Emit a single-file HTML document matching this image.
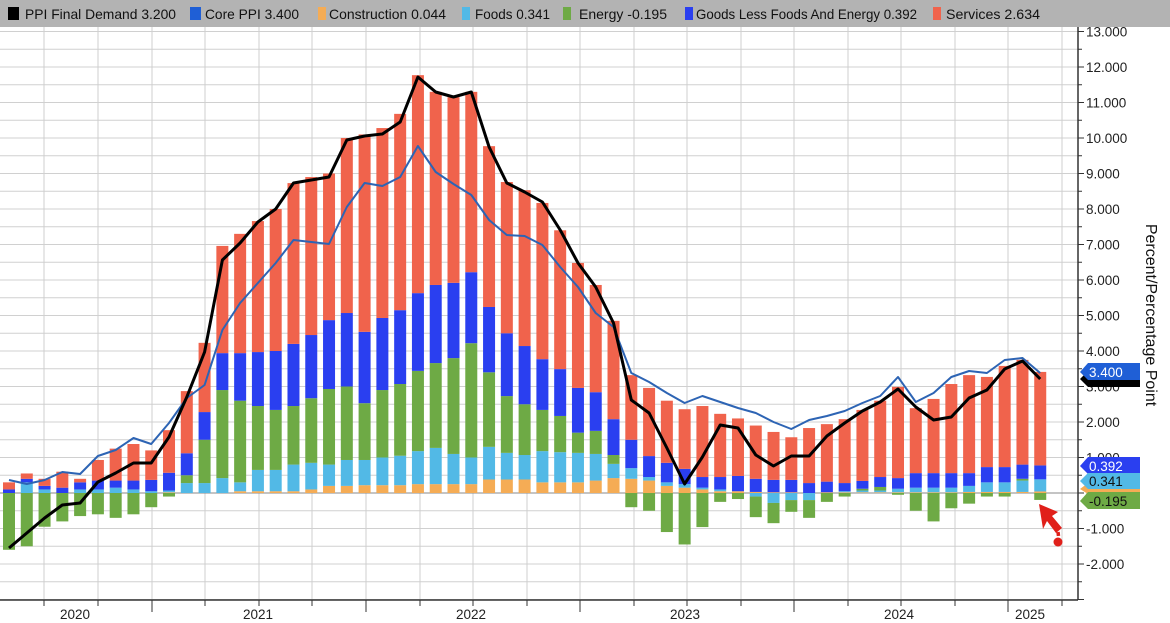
<!DOCTYPE html>
<html><head><meta charset="utf-8"><style>
html,body{margin:0;padding:0;background:#fff;width:1170px;height:623px;overflow:hidden}
svg{display:block;font-family:"Liberation Sans","DejaVu Sans",sans-serif}
</style></head><body>
<svg id="c" width="1170" height="623" viewBox="0 0 1170 623" xmlns="http://www.w3.org/2000/svg">
<rect x="0" y="0" width="1170" height="623" fill="#fff"/>
<g id="grid"></g>
<g id="bars"></g>
<g id="lines"></g>
<rect x="0" y="0" width="1170" height="27" fill="#b3b3b3"/>
<g font-size="14" fill="#111">
<rect x="8" y="7" width="11" height="13" fill="#000"/><text x="25" y="19" textLength="151" lengthAdjust="spacingAndGlyphs">PPI Final Demand 3.200</text>
<rect x="190" y="7" width="11" height="13" fill="#1f5fd6"/><text x="205" y="19" textLength="94" lengthAdjust="spacingAndGlyphs">Core PPI 3.400</text>
<rect x="318" y="7" width="8" height="13" fill="#f5ac55"/><text x="329" y="19" textLength="117" lengthAdjust="spacingAndGlyphs">Construction 0.044</text>
<rect x="462" y="7" width="8" height="13" fill="#52b9e6"/><text x="475" y="19" textLength="75" lengthAdjust="spacingAndGlyphs">Foods 0.341</text>
<rect x="563" y="7" width="8" height="13" fill="#6eaa45"/><text x="579" y="19" textLength="88" lengthAdjust="spacingAndGlyphs">Energy -0.195</text>
<rect x="685" y="7" width="8" height="13" fill="#2a3ff0"/><text x="696" y="19" textLength="221" lengthAdjust="spacingAndGlyphs">Goods Less Foods And Energy 0.392</text>
<rect x="933" y="7" width="8" height="13" fill="#f0634c"/><text x="946" y="19" textLength="94" lengthAdjust="spacingAndGlyphs">Services 2.634</text>
</g>
<g id="axis"></g>
<text transform="translate(1146,315) rotate(90)" text-anchor="middle" font-size="16" fill="#111">Percent/Percentage Point</text>
<g font-size="13.5">
<polygon points="1080,379 1088,371 1140,371 1140,387 1088,387" fill="#000"/>
<polygon points="1080,372 1088,363 1140,363 1140,380 1088,380" fill="#1f5fd6"/>
<text x="1089" y="377" fill="#fff">3.400</text>
<polygon points="1080,489 1088,483 1140,483 1140,494 1088,494" fill="#f5ac55"/>
<polygon points="1080,466 1088,457 1140,457 1140,474 1088,474" fill="#2a3ff0"/>
<text x="1089" y="471" fill="#fff">0.392</text>
<polygon points="1080,481 1088,473 1140,473 1140,489 1088,489" fill="#52b9e6"/>
<text x="1089" y="486" fill="#111">0.341</text>
<polygon points="1080,501 1088,492 1140,492 1140,509 1088,509" fill="#6eaa45"/>
<text x="1089" y="506" fill="#111">-0.195</text>
</g>
<polygon points="1039,504 1058,512 1052,516 1062,528 1056,533 1047,521 1043,529" fill="#e0201a"/>
<line x1="1058" y1="532" x2="1059" y2="540" stroke="#e0201a" stroke-width="3.5" stroke-dasharray="4,3"/>
<circle cx="1058" cy="542" r="4.5" fill="#e0201a"/>
</svg>
<script>
var NS="http://www.w3.org/2000/svg";
function el(p,t,a){var e=document.createElementNS(NS,t);for(var k in a)e.setAttribute(k,a[k]);p.appendChild(e);return e;}
var Z=493,U=35.5;
function Y(v){return Z-v*U;}
var grid=document.getElementById('grid');
for(var v=-3;v<=13.01;v+=0.5){var y=Y(v);if(y<28||y>600)continue;el(grid,'line',{x1:0,x2:1078,y1:y,y2:y,stroke:'#d0d0d0','stroke-width':1});}
var q=[44,98,152,205,259,312,366,420,473,527,580,634,687,741,794,848,901,955,1008,1062];
q.forEach(function(x){el(grid,'line',{x1:x,x2:x,y1:27,y2:600,stroke:'#cfcfcf','stroke-width':1});});
el(grid,'line',{x1:0,x2:1078,y1:Z,y2:Z,stroke:'#888','stroke-width':1});
var D=[[0,0,-1.6,.1,.2],[0,.3,-1.5,.1,.15],[0,.1,-.95,.1,.2],[0,0,-.8,.15,.45],[0,.1,-.65,.2,.1],[0,.1,-.6,.25,.58],[0,.15,-.7,.2,.9],[0,.1,-.6,.25,1.03],[0,.05,-.4,.32,.83],[.02,.05,-.1,.5,1.2],
[0,.28,.22,.62,1.75],[0,.28,1.22,.78,1.95],[0,.42,2.48,1.04,3.02],[.05,.25,2.3,1.34,3.36],[.05,.6,1.8,1.52,3.69],[.05,.6,1.69,1.66,4.0],[.05,.75,1.65,1.75,4.53],[.1,.75,1.82,1.78,4.45],[.2,.6,2.13,1.94,4.13],[.2,.73,2.07,2.07,4.93],
[.22,.71,1.6,2.01,5.56],[.22,.78,1.9,2.03,5.35],[.22,.83,2.02,2.08,5.53],[.25,.93,2.26,2.19,6.14],[.25,1.02,2.39,2.2,5.44],[.25,.85,2.7,2.12,5.23],[.25,.75,3.22,2.0,5.08],[.38,.92,2.1,1.84,4.53],[.38,.75,1.6,1.77,4.26],[.38,.69,1.43,1.64,4.39],
[.3,.88,1.16,1.43,4.4],[.3,.85,1.02,1.32,3.91],[.3,.83,.57,1.26,3.52],[.35,.75,.65,1.09,3.02],[.42,.4,.25,1.01,2.77],[.4,.3,-.4,.8,1.82],[.35,.1,-.5,.59,1.92],[.2,.1,-1.1,.55,1.75],[.15,.1,-1.45,.43,1.68],[.1,.05,-.96,.3,2.0],
[.05,.05,-.25,.35,1.78],[.05,0,-.17,.43,1.62],[.03,-.1,-.58,.37,1.5],[.02,-.28,-.57,.35,1.35],[.02,-.2,-.33,.35,1.2],[0,-.2,-.5,.28,1.55],[.02,0,-.25,.3,1.62],[.02,.03,-.1,.23,1.8],[.02,.05,.05,.22,2.0],[.02,.05,.1,.28,2.15],
[.02,.1,-.05,.3,2.57],[.02,.13,-.5,.41,1.83],[.02,.13,-.8,.41,2.09],[.02,.13,-.43,.41,2.51],[.03,.17,-.3,.36,2.76],[.03,.27,-.1,.43,2.54],[.03,.27,-.1,.43,2.85],[.03,.32,.05,.4,2.95],[.044,.341,-.195,.392,2.634]];
var C=['#f5ac55','#52b9e6','#6eaa45','#2a3ff0','#f0634c'];
var bars=document.getElementById('bars');
function X(i){return 9+i*17.78;}
D.forEach(function(d,i){var p=0,n=0,x=X(i)-6;
for(var k=0;k<5;k++){var v=d[k];if(v>0){el(bars,'rect',{x:x,y:Y(p+v),width:12,height:v*U,fill:C[k]});p+=v;}else if(v<0){el(bars,'rect',{x:x,y:Y(n),width:12,height:-v*U,fill:C[k]});n+=v;}}});
var blk=[548,533,518,505,503,482,473,463,463,437,397,352,260,243,222,209,183,180,177,140,136,134,122,77,92,97,92,147,183,192,202,230,263,287,323,400,413,448,484,457,425,428,455,466,456,456,436,423,411,402,389,407,420,417,398,390,369,361,379];
var blu=[480,484,480,472,474,456,450,438,444,423,398,385,330,303,283,263,240,242,244,207,183,186,177,146,172,184,195,220,235,236,245,267,287,313,327,373,382,393,403,396,402,408,413,422,429,420,416,411,403,396,377,402,393,377,371,373,360,358,373];
var L=document.getElementById('lines');
function pts(a){return a.map(function(y,i){return X(i).toFixed(1)+','+y;}).join(' ');}
el(L,'polyline',{points:pts(blu),fill:'none',stroke:'#2d64b4','stroke-width':2,'stroke-linejoin':'round'});
el(L,'polyline',{points:pts(blk),fill:'none',stroke:'#000','stroke-width':3,'stroke-linejoin':'round'});
var A=document.getElementById('axis');
el(A,'line',{x1:1078,x2:1078,y1:27,y2:600,stroke:'#333','stroke-width':1.5});
el(A,'line',{x1:0,x2:1078,y1:600,y2:600,stroke:'#333','stroke-width':1.5});
for(var v=-3;v<=13;v++){var y=Y(v);if(y<28||y>600)continue;el(A,'line',{x1:1078,x2:1084,y1:y,y2:y,stroke:'#333'});
if(v>=-2){var t=el(A,'text',{x:1086,y:y+5,'font-size':13.5,fill:'#222'});t.textContent=v.toFixed(3);}}
for(var v=-2.5;v<=13;v+=1){var y=Y(v);el(A,'line',{x1:1078,x2:1082,y1:y,y2:y,stroke:'#333'});}
q.forEach(function(x,j){var yr=[152,366,580,794,1008].indexOf(x)>=0;el(A,'line',{x1:x,x2:x,y1:600,y2:yr?612:606,stroke:'#333'});});
[[75,'2020'],[258,'2021'],[471,'2022'],[685,'2023'],[899,'2024'],[1030,'2025']].forEach(function(a){var t=el(A,'text',{x:a[0],y:619,'text-anchor':'middle','font-size':13.5,fill:'#222'});t.textContent=a[1];});
</script>
</body></html>
